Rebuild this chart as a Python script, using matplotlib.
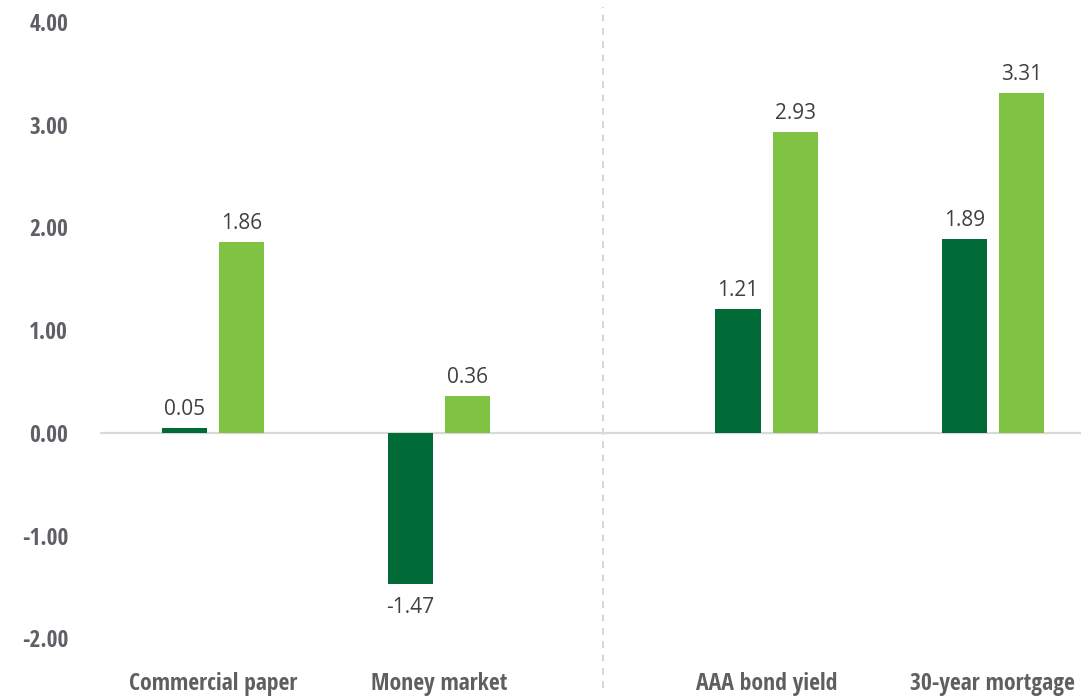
import matplotlib
matplotlib.use("Agg")
import matplotlib.pyplot as plt
from matplotlib import font_manager

categories = ["Commercial paper", "Money market", "AAA bond yield", "30-year mortgage"]
series_a = [0.05, -1.47, 1.21, 1.89]
series_b = [1.86, 0.36, 2.93, 3.31]
yticks = [-2, -1, 0, 1, 2, 3, 4]
ytick_labels = ["-2.00", "-1.00", "0.00", "1.00", "2.00", "3.00", "4.00"]

positions = [0, 1, 2.45, 3.45]
dark = "#006B37"
light = "#80C242"

entries = font_manager.fontManager.ttflist
names = {f.name for f in entries}
cond = None
stretch = "normal"
for cand in ["Open Sans Condensed", "Roboto Condensed", "Liberation Sans Narrow", "Arial Narrow"]:
    if cand in names:
        cond = cand
        break
if cond is None:
    for f in entries:
        if f.name == "DejaVu Sans" and f.stretch == "condensed":
            cond = "DejaVu Sans"
            stretch = "condensed"
            break
if cond is None:
    cond = "DejaVu Sans"
valfont = "Open Sans" if "Open Sans" in names else "DejaVu Sans"

fig = plt.figure(figsize=(10.81, 6.96), dpi=100)
ax = fig.add_axes([100/1081, 0, 981/1081, 1])

w = 0.2
off = 0.127
xa = [p - off for p in positions]
xb = [p + off for p in positions]
ba = ax.bar(xa, series_a, width=w, color=dark, zorder=3)
bb = ax.bar(xb, series_b, width=w, color=light, zorder=3)

for bars, vals in ((ba, series_a), (bb, series_b)):
    for rect, v in zip(bars, vals):
        x = rect.get_x() + rect.get_width() / 2
        if v >= 0:
            ax.annotate(f"{v:.2f}", (x, v), xytext=(0, 5.5), textcoords="offset points",
                        ha="center", va="bottom", fontsize=15, color="#404040", family=valfont)
        else:
            ax.annotate(f"{v:.2f}", (x, v), xytext=(0, -9), textcoords="offset points",
                        ha="center", va="top", fontsize=15, color="#404040", family=valfont)

ax.axhline(0, color="#d9d9d9", lw=1.6, zorder=2)
ax.axvline(1.726, ymin=0.012, ymax=0.99, color="#d0d0d0", lw=1.2, ls=(0, (4, 4)), zorder=1)

ax.set_xlim(-0.5, 3.84)
ax.set_ylim(-2.56, 4.214)
for s in ax.spines.values():
    s.set_visible(False)
ax.set_xticks([])

# fit font size of the condensed labels to the reference text width
renderer = fig.canvas.get_renderer()
probe = fig.text(0, 0, "Commercial paper", fontsize=15, fontweight="bold", family=cond, fontstretch=stretch)
pw = probe.get_window_extent(renderer).width
probe.remove()
cat_size = min(17, 15 * 170 / pw)
probe = fig.text(0, 0, "4.00", fontsize=15, fontweight="bold", family=cond, fontstretch=stretch)
pw = probe.get_window_extent(renderer).width
probe.remove()
tick_size = min(17, 15 * 39 / pw)

ax.set_yticks(yticks)
ax.set_yticklabels(ytick_labels)
ax.tick_params(axis="y", length=0, pad=23)
for lab in ax.get_yticklabels():
    lab.set_family(cond)
    lab.set_fontstretch(stretch)
    lab.set_fontweight("bold")
    lab.set_fontsize(tick_size)
    lab.set_color("#5f6066")
    lab.set_horizontalalignment("right")

for p, c in zip(positions, categories):
    ax.text(p, -2.44, c, ha="center", va="center", fontsize=cat_size, fontweight="bold",
            family=cond, fontstretch=stretch, color="#5f5f5f")

fig.savefig("out.png", dpi=100)
